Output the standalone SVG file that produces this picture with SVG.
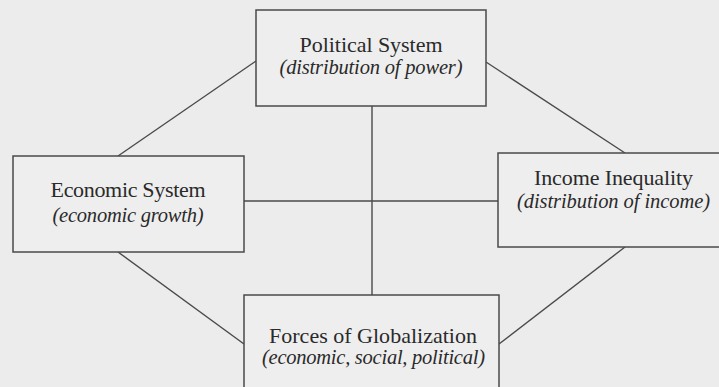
<svg xmlns="http://www.w3.org/2000/svg" width="719" height="387" viewBox="0 0 719 387">
<style>
.box{fill:#eeeeee;stroke:#4a4a4a;stroke-width:1.5}
.ln{stroke:#4a4a4a;stroke-width:1.4;fill:none}
.t{font-family:"Liberation Serif","Times New Roman",serif;font-size:22px;fill:#2a2a2a;text-anchor:middle}
.s{font-family:"Liberation Serif","Times New Roman",serif;font-size:20.5px;font-style:italic;fill:#2a2a2a;text-anchor:middle}
</style>
<rect x="0" y="0" width="719" height="387" fill="#ececec"/>
<g id="connectors">
<line class="ln" x1="256" y1="61" x2="118" y2="156"/>
<line class="ln" x1="486" y1="62" x2="625" y2="153"/>
<line class="ln" x1="372" y1="106" x2="372" y2="295"/>
<line class="ln" x1="244" y1="201" x2="498" y2="201"/>
<line class="ln" x1="118" y1="252" x2="244" y2="344"/>
<line class="ln" x1="625" y1="247" x2="499" y2="344"/>
</g>
<g id="political">
<rect class="box" x="256" y="10" width="230" height="96"/>
<text class="t" x="371" y="52" textLength="143">Political System</text>
<text class="s" x="371" y="74" textLength="183">(distribution of power)</text>
</g>
<g id="economic">
<rect class="box" x="13" y="156" width="231" height="96"/>
<text class="t" x="128" y="197" textLength="155">Economic System</text>
<text class="s" x="128" y="222" textLength="151">(economic growth)</text>
</g>
<g id="income">
<rect class="box" x="498" y="153" width="230" height="94"/>
<text class="t" x="613.5" y="185" textLength="159">Income Inequality</text>
<text class="s" x="613.5" y="208" textLength="193">(distribution of income)</text>
</g>
<g id="forces">
<rect class="box" x="244" y="295" width="255" height="100"/>
<text class="t" x="373" y="343" textLength="208">Forces of Globalization</text>
<text class="s" x="373.5" y="364" textLength="223">(economic, social, political)</text>
</g>
</svg>
